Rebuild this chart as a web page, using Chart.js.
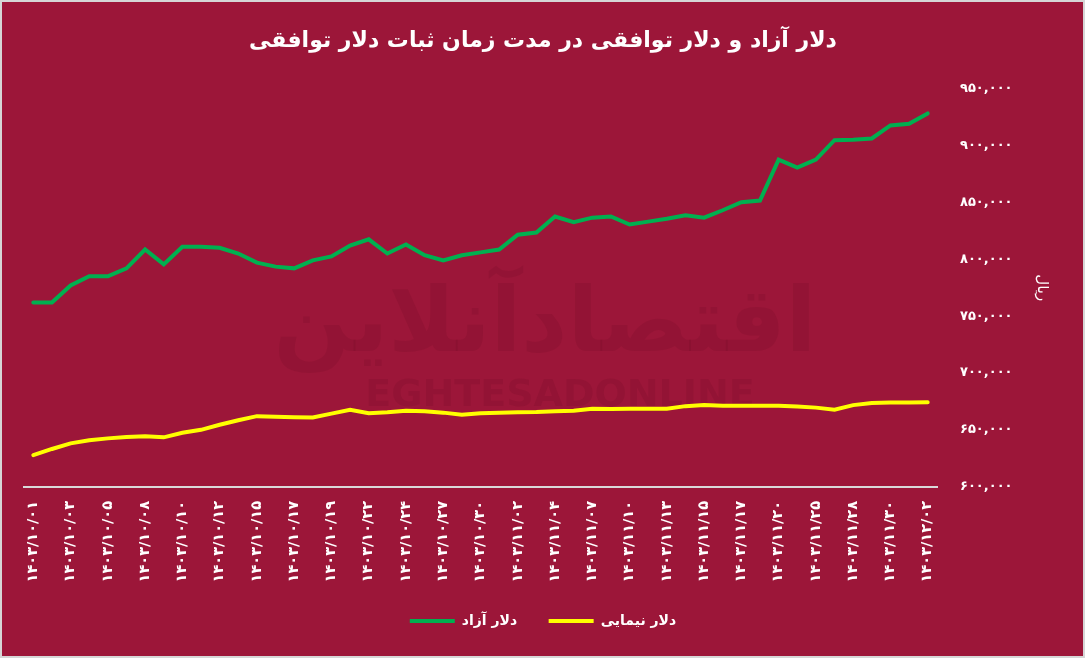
<!DOCTYPE html>
<html>
<head>
<meta charset="utf-8">
<script src="https://cdn.jsdelivr.net/npm/chart.js@4/dist/chart.umd.min.js"></script>
<style>
    body { margin: 0; background: #9c1639; }
    #wrap { width: 1085px; height: 658px; }
</style>
</head>
<body>
<div id="wrap"><canvas id="dollar-chart" width="1085" height="658"></canvas></div>
<script>
const chartTitle = "دلار آزاد و دلار توافقی در مدت زمان ثبات دلار توافقی";
const axisTitle = "ریال";
const seriesNames = ["دلار آزاد", "دلار نیمایی"];

const dates = [
    "1403/10/01", "1403/10/02", "1403/10/03", "1403/10/04", "1403/10/05", "1403/10/06", "1403/10/08",
    "1403/10/09", "1403/10/10", "1403/10/11", "1403/10/12", "1403/10/13", "1403/10/15", "1403/10/16",
    "1403/10/17", "1403/10/18", "1403/10/19", "1403/10/20", "1403/10/22", "1403/10/23", "1403/10/24",
    "1403/10/25", "1403/10/27", "1403/10/29", "1403/10/30", "1403/11/01", "1403/11/02", "1403/11/03",
    "1403/11/04", "1403/11/06", "1403/11/07", "1403/11/08", "1403/11/10", "1403/11/11", "1403/11/13",
    "1403/11/14", "1403/11/15", "1403/11/16", "1403/11/17", "1403/11/18", "1403/11/20", "1403/11/21",
    "1403/11/25", "1403/11/27", "1403/11/28", "1403/11/29", "1403/11/30", "1403/12/01", "1403/12/02"
];

const freeDollar = [
    762000, 762000, 777000, 785000, 785000, 792000, 808500, 795500, 811000, 811000,
    810000, 805000, 797000, 793500, 792000, 799000, 802500, 812000, 817500, 805000,
    813000, 803500, 799000, 803500, 806000, 808500, 821500, 823500, 837500, 832500,
    836500, 837500, 830500, 833000, 835500, 838500, 836500, 843000, 850000, 851500,
    887500, 880500, 887500, 904500, 905000, 906000, 917500, 919000, 928000
];

const nimaDollar = [
    628000, 633400, 638300, 641000, 642700, 644000, 644500, 643600, 647600, 650200,
    654700, 658600, 662200, 661700, 661300, 661100, 664400, 667900, 664800, 665700,
    667000, 666600, 665300, 663500, 664800, 665300, 665700, 665900, 666600, 667000,
    668800, 668400, 668800, 668800, 668800, 671000, 671900, 671400, 671400, 671400,
    671400, 670600, 669700, 667900, 671900, 673700, 674100, 674100, 674400
];

const yMin = 600000;
const yMax = 950000;
const yStep = 50000;

const bgColor = "#9c1639";
const fontName = "'DejaVu Sans', sans-serif";

function toFa(str) {
    var fa = "۰۱۲۳۴۵۶۷۸۹";
    return String(str).replace(/[0-9]/g, (d) => fa[d]);
}

function formatRial(v) {
    return toFa(v.toLocaleString("en-US"));
}

// page background, thin frame and the faint watermark behind the lines
const backdrop = {
    id: "backdrop",
    beforeDraw(chart) {
        let ctx = chart.ctx;
        ctx.save();
        ctx.fillStyle = bgColor;
        ctx.fillRect(0, 0, chart.width, chart.height);
        ctx.strokeStyle = "#d6d6d6";
        ctx.lineWidth = 2;
        ctx.strokeRect(1, 1, chart.width - 2, chart.height - 2);
        ctx.restore();
    },
    beforeDatasetsDraw(chart) {
        let ctx = chart.ctx;
        ctx.save();
        ctx.fillStyle = "rgba(70, 0, 20, 0.1)";
        ctx.textAlign = "center";
        ctx.textBaseline = "middle";
        ctx.font = "bold 90px " + fontName;
        ctx.fillText("اقتصادآنلاین", 545, 328);
        ctx.font = "bold 38px " + fontName;
        ctx.fillText("EGHTESADONLINE", 560, 396);
        ctx.restore();
    }
};

new Chart(document.getElementById("dollar-chart"), {
    type: "line",
    data: {
        labels: dates,
        datasets: [
            {
                label: seriesNames[0],
                data: freeDollar,
                borderColor: "#00b050",
                backgroundColor: "#00b050",
                borderWidth: 4,
                borderCapStyle: "round",
                pointRadius: 0,
                pointStyle: "line",
                tension: 0,
            },
            {
                label: seriesNames[1],
                data: nimaDollar,
                borderColor: "#ffff00",
                backgroundColor: "#ffff00",
                borderWidth: 4,
                borderCapStyle: "round",
                pointRadius: 0,
                pointStyle: "line",
                tension: 0,
            },
        ],
    },
    options: {
        responsive: false,
        animation: false,
        layout: {
            padding: { left: 24, right: 23, top: 14, bottom: 20 },
        },
        scales: {
            x: {
                offset: true,
                grid: { display: false, drawTicks: false },
                border: { display: true, color: "#d9d9d9", width: 2 },
                ticks: {
                    autoSkip: false,
                    maxRotation: 90,
                    minRotation: 90,
                    padding: 14,
                    color: "#ffffff",
                    font: { family: fontName, size: 14.5, weight: "bold" },
                    callback: function (value, index) {
                        return index % 2 == 0 ? toFa(dates[index]) : "";
                    },
                },
                afterFit: function (scale) {
                    scale.height = 115;
                },
            },
            y: {
                position: "right",
                min: yMin,
                max: yMax,
                grid: { display: false, drawTicks: false },
                border: { display: false },
                ticks: {
                    stepSize: yStep,
                    padding: 23,
                    color: "#ffffff",
                    font: { family: fontName, size: 13, weight: "bold" },
                    callback: (v) => formatRial(v),
                },
                title: {
                    display: true,
                    text: axisTitle,
                    color: "#ffffff",
                    padding: { top: 11, bottom: 0 },
                    font: { family: fontName, size: 15 },
                },
                afterFit: function (scale) {
                    scale.width = 125;
                },
            },
        },
        plugins: {
            title: {
                display: true,
                text: chartTitle,
                color: "#ffffff",
                padding: { top: 14, bottom: 34 },
                font: { family: fontName, size: 22, weight: "bold" },
            },
            legend: {
                position: "bottom",
                labels: {
                    usePointStyle: true,
                    pointStyleWidth: 45,
                    padding: 12,
                    color: "#ffffff",
                    font: { family: fontName, size: 14, weight: "bold" },
                    generateLabels: function (chart) {
                        let items = Chart.defaults.plugins.legend.labels.generateLabels(chart);
                        // a little extra room after the first entry
                        items[0].text = items[0].text + "\u00a0\u00a0\u00a0\u00a0";
                        return items;
                    },
                },
            },
            tooltip: { enabled: false },
        },
    },
    plugins: [backdrop],
});
</script>
</body>
</html>
